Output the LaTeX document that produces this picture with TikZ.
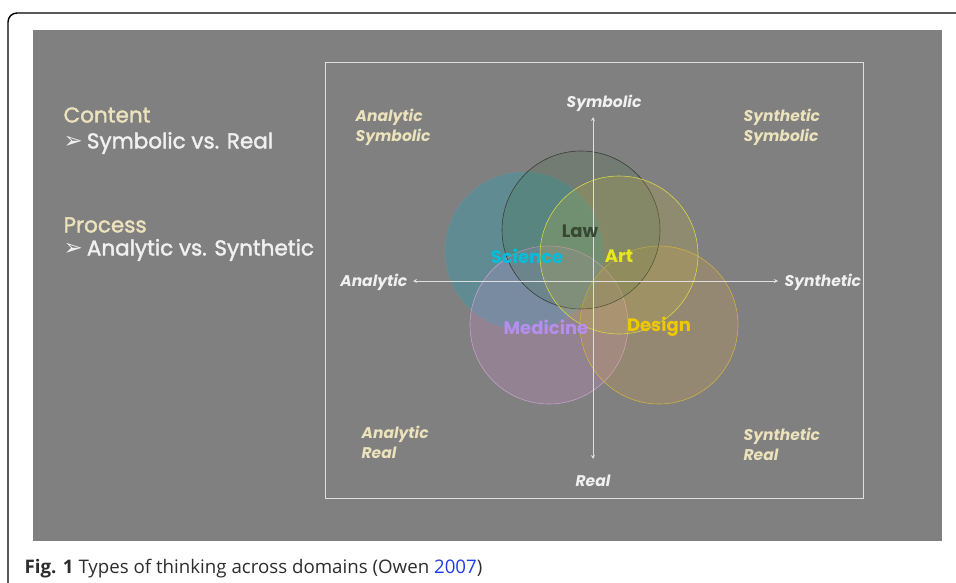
\documentclass[tikz,border=0pt]{standalone}
\usepackage{fontspec}
\setmainfont{Open Sans}
\newfontfamily\gothic{Poppins}
\newfontfamily\gothicmed[FakeBold=1.8]{Poppins}
\newfontfamily\dingfont{DejaVu Sans}
\usepackage{tikz}
\usetikzlibrary{shapes, positioning, arrows.meta}

\definecolor{slide}{RGB}{128,128,128}
\definecolor{cream}{RGB}{236,226,188}
\definecolor{chalk}{RGB}{240,240,240}
\definecolor{axisline}{RGB}{222,222,222}
\definecolor{scicol}{RGB}{40,160,180}
\definecolor{lawcol}{RGB}{60,110,60}
\definecolor{lawline}{RGB}{58,62,58}
\definecolor{artcol}{RGB}{200,180,60}
\definecolor{artline}{RGB}{214,214,70}
\definecolor{medcol}{RGB}{220,140,220}
\definecolor{medline}{RGB}{196,160,200}
\definecolor{descol}{RGB}{230,170,60}
\definecolor{desline}{RGB}{206,176,70}
\definecolor{linkblue}{RGB}{30,60,230}
\definecolor{captext}{RGB}{45,45,45}

\begin{document}
\begin{tikzpicture}[x=1pt, y=-1pt, semithick, ->, >={Stealth[length=4pt,width=4pt]}]
\tikzstyle{fieldcirc}=[circle, minimum size=158pt, inner sep=0pt, fill opacity=0.35, draw opacity=1]
\tikzstyle{quadlbl}=[align=left, anchor=west, text=cream, font=\gothic\itshape\bfseries\fontsize{15.5}{20}\selectfont]
\tikzstyle{polelbl}=[text=chalk, font=\gothic\itshape\bfseries\fontsize{15.5}{18}\selectfont]
\tikzstyle{headtxt}=[anchor=west, text=cream, font=\gothicmed\fontsize{21.5}{24}\selectfont]
\tikzstyle{itemtxt}=[anchor=west, text=chalk, font=\gothicmed\fontsize{21.5}{24}\selectfont]
\tikzstyle{fieldtxt}=[font=\gothic\bfseries\fontsize{18}{20}\selectfont]
\newcommand{\bulletarrow}{{\dingfont\fontsize{23}{24}\selectfont ➢}\hspace{4pt}}

\clip (0,0) rectangle (956,583);

% page frame and slide
\draw[-, line width=1.4pt, rounded corners=9pt] (8,13) rectangle (990,620);
\fill[slide] (33,30) rectangle (942,541);
\draw[-, axisline, line width=0.8pt] (325,62) rectangle (863,498);

% left column
\node[headtxt]    		(content) at (60,115)   {Content};
\node[itemtxt]    		(symreal) at (60,143)   {\bulletarrow Symbolic vs. Real};
\node[headtxt]    		(process) at (60,225)   {Process};
\node[itemtxt]    		(anasyn) at (60,250)   {\bulletarrow Analytic vs. Synthetic};

% quadrants
\node[quadlbl]    		(ansym) at (352,127)   {Analytic\\Symbolic};
\node[quadlbl]    		(synsym) at (740,127)   {Synthetic\\Symbolic};
\node[quadlbl]    		(anreal) at (358,442)   {Analytic\\Real};
\node[quadlbl]    		(synreal) at (740,444)   {Synthetic\\Real};

% fields
\node[fieldcirc, fill=scicol, draw=scicol!70, draw opacity=0.15]    	(science) at (524,251)   {};
\node[fieldcirc, fill=medcol, draw=medline, fill opacity=0.2]    	(medicine) at (549,325)   {};
\node[fieldcirc, fill=descol, draw=desline, fill opacity=0.2]    	(design) at (659,325)   {};
\node[fieldcirc, fill=lawcol, draw=lawline, fill opacity=0.2]    	(law) at (581,230)   {};
\node[fieldcirc, fill=artcol, draw=artline, fill opacity=0.22]    	(art) at (619,255)   {};

% axes
\coordinate (origin) at (593,281);
\coordinate (up) at (593,117);
\coordinate (down) at (593,459);
\coordinate (west) at (413,281);
\coordinate (east) at (778,281);
\node[polelbl]    		(symbolic) at (604,103)   {Symbolic};
\node[polelbl]    		(real) at (593,481)   {Real};
\node[polelbl, anchor=east]    		(analytic) at (411,282)   {Analytic};
\node[polelbl, anchor=west]    		(synthetic) at (781,282)   {Synthetic};

\path[axisline, line width=0.8pt]
(origin) edge (up)
(origin) edge (down)
(origin) edge (west)
(origin) edge (east);

\node[fieldtxt, text={rgb,255:red,56;green,72;blue,50}]    	(lawtxt) at (580,231)   {Law};
\node[fieldtxt, text={rgb,255:red,0;green,190;blue,220}]    	(scitxt) at (527,256)   {Science};
\node[fieldtxt, text={rgb,255:red,232;green,232;blue,24}]    	(arttxt) at (619,256)   {Art};
\node[fieldtxt, text={rgb,255:red,182;green,142;blue,238}]    	(medtxt) at (546,327)   {Medicine};
\node[fieldtxt, text={rgb,255:red,240;green,200;blue,0}]    	(destxt) at (659,327)   {Design};

% caption
\node[anchor=west, text=captext, font=\fontsize{18.7}{21}\selectfont]    	(caption) at (21,569)   {\textbf{Fig. 1} Types of thinking across domains (Owen \textcolor{linkblue}{2007})};

\end{tikzpicture}
\end{document}
